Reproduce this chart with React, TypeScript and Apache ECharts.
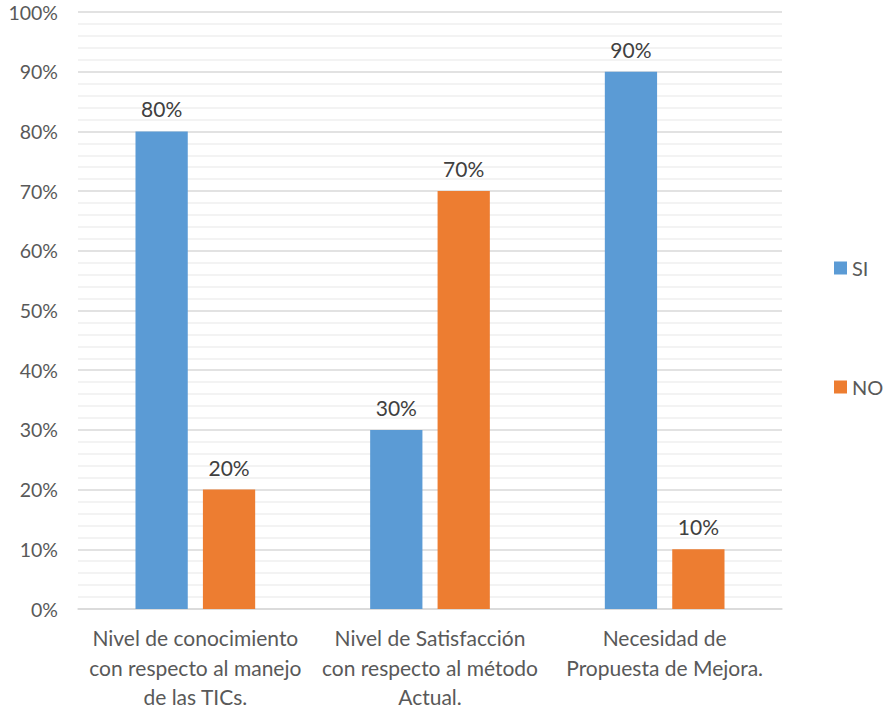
import React, { useEffect, useRef } from "react";
import * as echarts from "echarts";

const categories = [
  "Nivel de conocimiento\ncon respecto al manejo\nde las TICs.",
  "Nivel de Satisfacción\ncon respecto al método\nActual.",
  "Necesidad de\nPropuesta de Mejora.",
];
const siValues = [80, 30, 90];
const noValues = [20, 70, 10];
const seriesNames = ["SI", "NO"];

const FONT = "Lato";

export default function App() {
  const ref = useRef<HTMLDivElement>(null);
  useEffect(() => {
    if (!ref.current) return;
    const chart = echarts.init(ref.current, null, { renderer: "svg" });
    const label = {
      show: true,
      position: "top",
      distance: 12,
      formatter: (p: any) => `${p.value}%`,
      color: "#404040",
      fontSize: 21,
      fontFamily: FONT,
    };
    chart.setOption({
      animation: false,
      textStyle: { fontFamily: FONT },
      grid: {
        left: 78,
        right: 104,
        top: 12,
        bottom: 104,
        containLabel: false,
        outerBoundsMode: "none",
      },
      legend: {
        orient: "vertical",
        left: 834,
        top: 258,
        padding: 0,
        itemWidth: 13,
        itemHeight: 13,
        itemGap: 99,
        icon: "rect",
        textStyle: { color: "#595959", fontSize: 20, fontFamily: FONT },
        data: seriesNames,
      },
      xAxis: {
        type: "category",
        data: categories,
        axisLine: { lineStyle: { color: "#d9d9d9", width: 1.5 } },
        axisTick: { show: false },
        axisLabel: {
          color: "#595959",
          fontSize: 21,
          fontFamily: FONT,
          lineHeight: 29.5,
          margin: 14,
          interval: 0,
        },
      },
      yAxis: {
        type: "value",
        min: 0,
        max: 100,
        interval: 10,
        axisLine: { show: false },
        axisTick: { show: false },
        axisLabel: {
          formatter: "{value}%",
          color: "#595959",
          fontSize: 19.5,
          lineHeight: 16,
          fontFamily: FONT,
          margin: 20,
        },
        splitLine: { lineStyle: { color: "#d9d9d9", width: 1.5 } },
        minorTick: { show: false, splitNumber: 5 },
        minorSplitLine: { show: true, lineStyle: { color: "#efefef", width: 1.5 } },
      },
      series: [
        {
          name: seriesNames[0],
          type: "bar",
          data: siValues,
          itemStyle: { color: "#5b9bd5" },
          barGap: "29%",
          barCategoryGap: "49%",
          label,
        },
        {
          name: seriesNames[1],
          type: "bar",
          data: noValues,
          itemStyle: { color: "#ed7d31" },
          label,
        },
      ],
    });
    return () => chart.dispose();
  }, []);
  return (
    <div
      ref={ref}
      style={{ position: "fixed", left: 0, top: 0, width: 886, height: 713, background: "#fff" }}
    />
  );
}
